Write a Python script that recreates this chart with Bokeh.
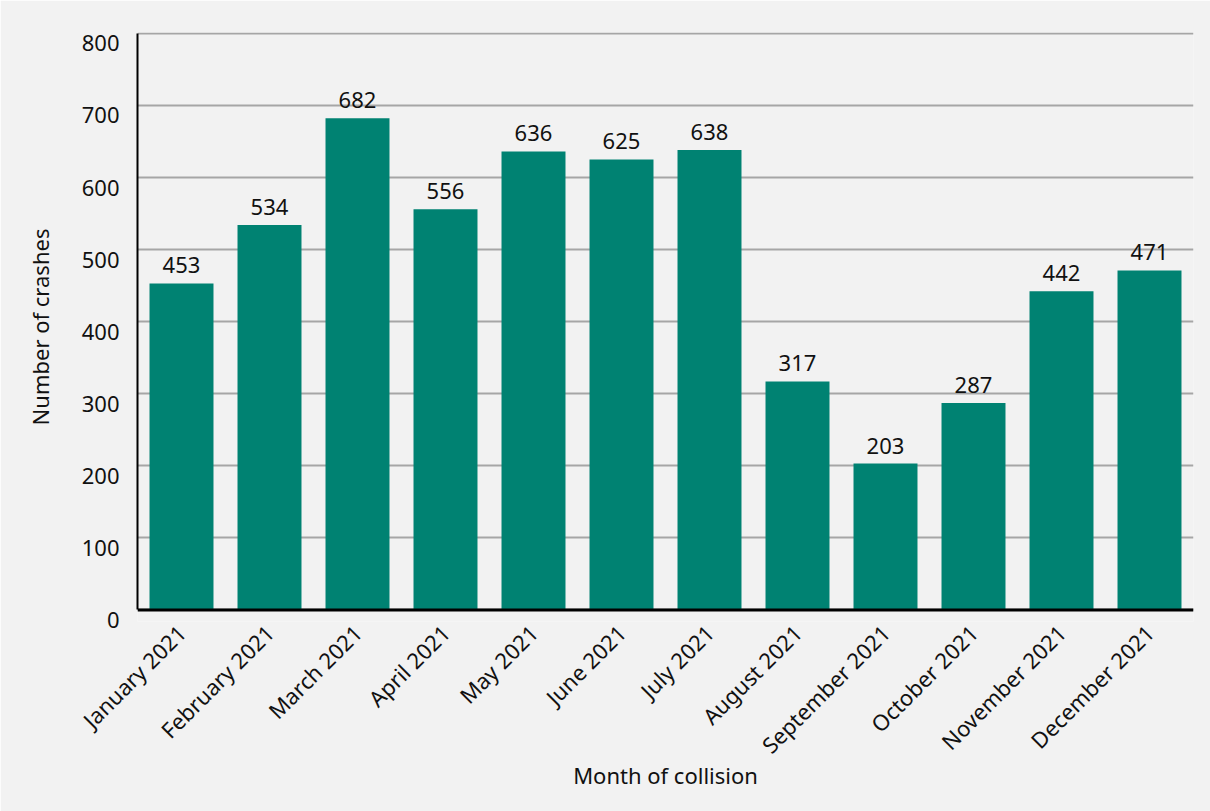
from bokeh.plotting import figure
from bokeh.models import (ColumnDataSource, LabelSet, FixedTicker, LinearAxis,
                          Range1d, Span)
from bokeh.core.properties import value
from bokeh.embed import file_html
from bokeh.resources import INLINE
import math

# Monthly crash counts for 2021
months = ["January 2021", "February 2021", "March 2021", "April 2021", "May 2021",
          "June 2021", "July 2021", "August 2021", "September 2021", "October 2021",
          "November 2021", "December 2021"]
crashes = [453, 534, 682, 556, 636, 625, 638, 317, 203, 287, 442, 471]
y_ticks = [0, 100, 200, 300, 400, 500, 600, 700, 800]

FONT = "Noto Sans"
BG = "#f2f2f2"
BAR = "#008272"
INK = "#111111"

src = ColumnDataSource(dict(month=months, n=crashes, label=[str(v) for v in crashes]))

# a little room under zero so the tick labels can sit below their gridlines
Y_LO, Y_HI = -16, 801
LABEL_SHIFT = 14  # data units the y tick labels sit below their gridline

p = figure(x_range=months, y_range=Range1d(Y_LO, Y_HI), width=1210, height=811,
           output_backend="svg", toolbar_location=None,
           background_fill_color=BG, border_fill_color=BG,
           min_border_left=137, min_border_right=17,
           min_border_top=32, min_border_bottom=190)
p.outline_line_color = None
p.extra_y_ranges = {"lab": Range1d(Y_LO + LABEL_SHIFT, Y_HI + LABEL_SHIFT)}

p.vbar(x="month", top="n", bottom=0, width=0.727, source=src, color=BAR, line_color=None)

# value above each bar
p.add_layout(LabelSet(x="month", y="n", text="label", source=src,
                      text_align="center", text_baseline="bottom", y_offset=10,
                      text_font=value(FONT), text_font_size="22px", text_color=INK))

# grid
p.xgrid.grid_line_color = None
p.ygrid.ticker = FixedTicker(ticks=y_ticks)
p.ygrid.grid_line_color = "#a6a6a6"
p.ygrid.grid_line_width = 2

# baseline at zero
p.add_layout(Span(location=0, dimension="width", line_color="#000000", line_width=3))

# y axis: plain black line from 0 to 800
yax = p.yaxis[0]
yax.ticker = FixedTicker(ticks=y_ticks)
yax.bounds = (0, 800)
yax.major_label_overrides = {v: "" for v in y_ticks}
yax.major_label_text_font_size = "0px"
yax.major_label_standoff = 0
yax.axis_line_color = "#000000"
yax.axis_line_width = 2
yax.major_tick_line_color = None
yax.minor_tick_line_color = None

# y axis carrying the tick labels and title
lab_axis = LinearAxis(y_range_name="lab", ticker=FixedTicker(ticks=y_ticks),
                      axis_line_color=None, major_tick_line_color=None,
                      minor_tick_line_color=None, major_label_standoff=6,
                      axis_label="Number of crashes", axis_label_standoff=24,
                      major_label_text_font=FONT, major_label_text_font_size="22px",
                      major_label_text_color=INK,
                      axis_label_text_font=FONT, axis_label_text_font_size="22px",
                      axis_label_text_font_style="normal", axis_label_text_color=INK)
p.add_layout(lab_axis, "left")

# x axis
xax = p.xaxis[0]
xax.axis_line_color = None
xax.major_tick_line_color = None
xax.major_label_orientation = math.pi / 4
xax.major_label_standoff = 1
xax.axis_label = "Month of collision"
xax.axis_label_standoff = -13
xax.major_label_text_font = FONT
xax.major_label_text_font_size = "22px"
xax.major_label_text_color = INK
xax.axis_label_text_font = FONT
xax.axis_label_text_font_size = "22px"
xax.axis_label_text_font_style = "normal"
xax.axis_label_text_color = INK

open("out.html", "w").write(file_html(p, INLINE))
